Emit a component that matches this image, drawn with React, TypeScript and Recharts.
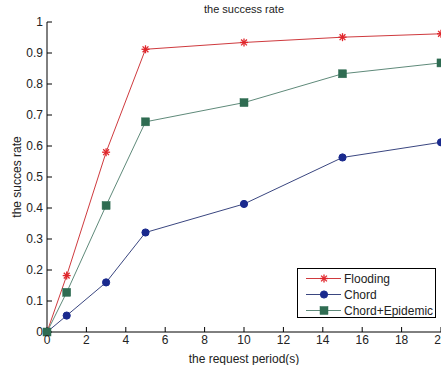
import { LineChart, Line, XAxis, YAxis, Legend } from 'recharts'

const periods = [0, 1, 3, 5, 10, 15, 20]
const flooding = [0, 0.182, 0.58, 0.912, 0.934, 0.951, 0.962]
const chord = [0, 0.053, 0.16, 0.321, 0.413, 0.563, 0.612]
const chordEpidemic = [0, 0.128, 0.408, 0.678, 0.74, 0.833, 0.868]

const xTicks = [0, 2, 4, 6, 8, 10, 12, 14, 16, 18, 20]
const yTicks = [0, 0.1, 0.2, 0.3, 0.4, 0.5, 0.6, 0.7, 0.8, 0.9, 1]
const legendOrder = ['flooding', 'chord', 'chordEpidemic']

const data = periods.map((p, i) => ({
  period: p,
  flooding: flooding[i],
  chord: chord[i],
  chordEpidemic: chordEpidemic[i],
}))

const FONT = '"Liberation Sans", Arial, sans-serif'
const RED = '#e0262b'
const RED_LINE = '#cf3a3e'
const BLUE = '#1a2a8e'
const BLUE_LINE = '#3a4680'
const GREEN = '#2f6c52'
const GREEN_LINE = '#5f8a7a'

interface DotProps {
  cx?: number
  cy?: number
}

const StarDot = ({ cx, cy }: DotProps) => {
  if (cx == null || cy == null) return null
  const r = 4
  const d = 2.9
  return (
    <g stroke={RED} strokeWidth={1.3}>
      <line x1={cx - r} y1={cy} x2={cx + r} y2={cy} />
      <line x1={cx} y1={cy - r} x2={cx} y2={cy + r} />
      <line x1={cx - d} y1={cy - d} x2={cx + d} y2={cy + d} />
      <line x1={cx - d} y1={cy + d} x2={cx + d} y2={cy - d} />
    </g>
  )
}

const CircleDot = ({ cx, cy }: DotProps) => {
  if (cx == null || cy == null) return null
  return <circle cx={cx} cy={cy} r={3.6} fill={BLUE} stroke={BLUE} />
}

const SquareDot = ({ cx, cy }: DotProps) => {
  if (cx == null || cy == null) return null
  return <rect x={cx - 4} y={cy - 4} width={8} height={8} fill={GREEN} stroke={GREEN} strokeWidth={0.5} />
}

interface LegendItem {
  value: string
  dataKey?: string
}

const markerFor = (key: string | undefined, cx: number, cy: number) => {
  if (key === 'flooding') return <StarDot cx={cx} cy={cy} />
  if (key === 'chord') return <CircleDot cx={cx} cy={cy} />
  return <SquareDot cx={cx} cy={cy} />
}

const lineColor = (key: string | undefined) =>
  key === 'flooding' ? RED_LINE : key === 'chord' ? BLUE_LINE : GREEN_LINE

const MatlabLegend = ({ payload }: { payload?: LegendItem[] }) => {
  const items = [...(payload ?? [])].sort(
    (a, b) => legendOrder.indexOf(String(a.dataKey)) - legendOrder.indexOf(String(b.dataKey))
  )
  return (
    <div
      style={{
        border: '1px solid #000',
        background: '#fff',
        width: 139,
        height: 50,
        boxSizing: 'border-box',
        position: 'relative',
      }}
    >
      <svg width={139} height={50} style={{ position: 'absolute', left: 0, top: 0 }}>
        {items.map((it, i) => {
          const y = 9.5 + i * 16
          return (
            <g key={it.value}>
              <line x1={8} y1={y} x2={43} y2={y} stroke={lineColor(it.dataKey)} strokeWidth={1} />
              {markerFor(it.dataKey, 26, y)}
              <text x={46} y={y + 4.5} fontSize={12} fontFamily={FONT} fill="#222">
                {it.value}
              </text>
            </g>
          )
        })}
      </svg>
    </div>
  )
}

const tickStyle = { fontSize: 12, fill: '#222', fontFamily: FONT }

export default function App() {
  return (
    <div
      style={{
        position: 'fixed',
        left: 0,
        top: 0,
        width: 441,
        height: 365,
        overflow: 'hidden',
        background: '#fff',
      }}
    >
      <div
        style={{
          position: 'absolute',
          top: 3,
          left: 0,
          width: 488,
          textAlign: 'center',
          fontFamily: FONT,
          fontSize: 11,
          color: '#222',
        }}
      >
        the success rate
      </div>
      <LineChart
        width={460}
        height={365}
        data={data}
        margin={{ top: 22, right: 19, bottom: 0, left: 0 }}
      >
        <XAxis
          xAxisId="bottom"
          dataKey="period"
          type="number"
          domain={[0, 20]}
          ticks={xTicks}
          interval={0}
          height={33}
          tickSize={-5}
          tickMargin={8}
          stroke="#000"
          tick={tickStyle}
          label={{
            value: 'the request period(s)',
            position: 'insideBottom',
            offset: 2,
            style: { fontSize: 12, fill: '#222', fontFamily: FONT },
          }}
        />
        <XAxis
          xAxisId="top"
          orientation="top"
          dataKey="period"
          type="number"
          domain={[0, 20]}
          ticks={xTicks}
          interval={0}
          height={0}
          tickSize={-5}
          stroke="#000"
          tickFormatter={() => ''}
        />
        <YAxis
          yAxisId="left"
          type="number"
          domain={[0, 1]}
          ticks={yTicks}
          interval={0}
          width={47}
          tickSize={-5}
          tickMargin={9}
          stroke="#000"
          tick={tickStyle}
          tickFormatter={(v: number) => `${v}`}
          label={{
            value: 'the succes rate',
            angle: -90,
            position: 'insideLeft',
            offset: 17,
            style: { fontSize: 12, fill: '#222', fontFamily: FONT, textAnchor: 'middle' },
          }}
        />
        <YAxis
          yAxisId="right"
          orientation="right"
          type="number"
          domain={[0, 1]}
          ticks={yTicks}
          interval={0}
          width={0}
          tickSize={-5}
          stroke="#000"
          tickFormatter={() => ''}
        />
        <Line
          xAxisId="bottom"
          yAxisId="left"
          dataKey="flooding"
          name="Flooding"
          stroke={RED_LINE}
          strokeWidth={1}
          dot={<StarDot />}
          isAnimationActive={false}
        />
        <Line
          xAxisId="bottom"
          yAxisId="left"
          dataKey="chord"
          name="Chord"
          stroke={BLUE_LINE}
          strokeWidth={1}
          dot={<CircleDot />}
          isAnimationActive={false}
        />
        <Line
          xAxisId="bottom"
          yAxisId="left"
          dataKey="chordEpidemic"
          name="Chord+Epidemic"
          stroke={GREEN_LINE}
          strokeWidth={1}
          dot={<SquareDot />}
          isAnimationActive={false}
        />
        <Legend
          layout="vertical"
          align="center"
          verticalAlign="middle"
          content={<MatlabLegend />}
          wrapperStyle={{ left: 297, top: 268, width: 139, height: 50 }}
        />
      </LineChart>
    </div>
  )
}
